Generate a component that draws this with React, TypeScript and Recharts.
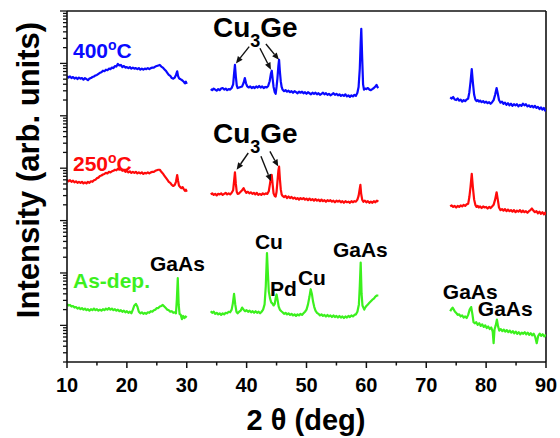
import { LineChart, Line, XAxis, YAxis, ReferenceLine, ReferenceDot } from "recharts";

type Pt = [number, number];

// [2θ (deg), log10 intensity (arb. units)]
const blue1: Pt[] = [
  [10, 5.76], [10.25, 5.73], [10.5, 5.75], [10.75, 5.72], [11, 5.74], [11.25, 5.71], [11.5, 5.73], [11.75, 5.7],
  [12, 5.73], [12.25, 5.71], [12.5, 5.72], [12.75, 5.69], [13, 5.72], [13.25, 5.7], [13.5, 5.68], [13.75, 5.71],
  [14, 5.72], [14.25, 5.74], [14.5, 5.75], [14.75, 5.77], [15, 5.78], [15.25, 5.8], [15.5, 5.82], [15.75, 5.83],
  [16, 5.86], [16.25, 5.85], [16.5, 5.88], [16.75, 5.87], [17, 5.9], [17.25, 5.89], [17.5, 5.92], [17.75, 5.91],
  [18, 5.95], [18.25, 5.94], [18.5, 5.99], [18.75, 5.96], [19, 5.97], [19.25, 5.93], [19.5, 5.95], [19.75, 5.92],
  [20, 5.93], [20.25, 5.91], [20.5, 5.93], [20.75, 5.9], [21, 5.92], [21.25, 5.9], [21.5, 5.91], [21.75, 5.89],
  [22, 5.91], [22.25, 5.88], [22.5, 5.9], [22.75, 5.88], [23, 5.9], [23.25, 5.89], [23.5, 5.91], [23.75, 5.89],
  [24, 5.91], [24.25, 5.92], [24.5, 5.92], [24.75, 5.94], [25, 5.95], [25.25, 5.96], [25.5, 5.97], [25.75, 5.94],
  [26, 5.92], [26.25, 5.89], [26.5, 5.86], [26.75, 5.82], [27, 5.78], [27.25, 5.76], [27.5, 5.72], [27.75, 5.71],
  [28, 5.73], [28.2, 5.78], [28.4, 5.85], [28.55, 5.76], [28.7, 5.72], [28.9, 5.7], [29.1, 5.69], [29.3, 5.67],
  [29.5, 5.65], [29.7, 5.62], [29.85, 5.65], [30, 5.61],
];
const blue2: Pt[] = [
  [34, 5.51], [34.25, 5.49], [34.5, 5.52], [34.75, 5.5], [35, 5.48], [35.25, 5.51], [35.5, 5.49], [35.75, 5.52],
  [36, 5.53], [36.25, 5.5], [36.5, 5.52], [36.75, 5.49], [37, 5.51], [37.25, 5.5], [37.5, 5.53], [37.75, 5.6],
  [37.9, 5.8], [38.05, 5.97], [38.2, 5.75], [38.35, 5.58], [38.5, 5.53], [38.75, 5.54], [39, 5.55], [39.25, 5.56],
  [39.5, 5.63], [39.7, 5.72], [39.9, 5.62], [40.1, 5.56], [40.35, 5.54], [40.6, 5.56], [40.85, 5.53], [41.1, 5.55],
  [41.35, 5.53], [41.6, 5.56], [41.85, 5.54], [42.1, 5.57], [42.35, 5.54], [42.6, 5.56], [42.85, 5.53], [43.1, 5.55],
  [43.35, 5.54], [43.6, 5.57], [43.85, 5.66], [44.05, 5.8], [44.2, 5.86], [44.35, 5.7], [44.5, 5.55], [44.7, 5.45],
  [44.85, 5.42], [45, 5.55], [45.15, 5.72], [45.3, 5.95], [45.42, 6.07], [45.55, 5.85], [45.7, 5.66], [45.85, 5.55],
  [46, 5.5], [46.25, 5.47], [46.5, 5.49], [46.75, 5.46], [47, 5.48], [47.25, 5.45], [47.5, 5.47], [47.75, 5.44],
  [48, 5.47], [48.25, 5.45], [48.5, 5.43], [48.75, 5.46], [49, 5.44], [49.25, 5.46], [49.5, 5.43], [49.75, 5.45],
  [50, 5.42], [50.25, 5.45], [50.5, 5.43], [50.75, 5.41], [51, 5.44], [51.25, 5.42], [51.5, 5.44], [51.75, 5.41],
  [52, 5.43], [52.25, 5.4], [52.5, 5.42], [52.75, 5.44], [53, 5.41], [53.25, 5.43], [53.5, 5.4], [53.75, 5.42],
  [54, 5.39], [54.25, 5.41], [54.5, 5.43], [54.75, 5.4], [55, 5.42], [55.25, 5.39], [55.5, 5.41], [55.75, 5.38],
  [56, 5.4], [56.25, 5.38], [56.5, 5.41], [56.75, 5.37], [57, 5.39], [57.25, 5.36], [57.5, 5.39], [57.75, 5.37],
  [58, 5.4], [58.25, 5.38], [58.5, 5.44], [58.7, 5.55], [58.9, 5.9], [59.05, 6.4], [59.15, 6.66], [59.3, 6.1],
  [59.45, 5.6], [59.6, 5.5], [59.8, 5.52], [60, 5.51], [60.25, 5.53], [60.5, 5.5], [60.75, 5.49], [61, 5.51],
  [61.25, 5.53], [61.5, 5.56], [61.7, 5.59], [61.85, 5.55], [62, 5.53],
];
const blue3: Pt[] = [
  [74, 5.35], [74.25, 5.33], [74.5, 5.36], [74.75, 5.31], [75, 5.3], [75.25, 5.33], [75.5, 5.29], [75.75, 5.31],
  [76, 5.27], [76.25, 5.3], [76.5, 5.28], [76.75, 5.31], [77, 5.33], [77.2, 5.45], [77.4, 5.65], [77.6, 5.89],
  [77.8, 5.62], [78, 5.4], [78.2, 5.31], [78.4, 5.28], [78.6, 5.3], [78.8, 5.27], [79, 5.29], [79.25, 5.26],
  [79.5, 5.28], [79.75, 5.25], [80, 5.27], [80.25, 5.24], [80.5, 5.26], [80.75, 5.23], [81, 5.26], [81.25, 5.3],
  [81.5, 5.4], [81.75, 5.53], [81.95, 5.42], [82.15, 5.3], [82.4, 5.25], [82.65, 5.27], [82.9, 5.23], [83.15, 5.25],
  [83.4, 5.21], [83.65, 5.24], [83.9, 5.2], [84.15, 5.23], [84.4, 5.19], [84.65, 5.22], [84.9, 5.2], [85.15, 5.22],
  [85.4, 5.18], [85.65, 5.21], [85.9, 5.19], [86.15, 5.23], [86.4, 5.2], [86.65, 5.22], [86.9, 5.18], [87.15, 5.2],
  [87.4, 5.17], [87.65, 5.19], [87.9, 5.16], [88.15, 5.19], [88.4, 5.15], [88.65, 5.17], [88.9, 5.13], [89.15, 5.16],
  [89.4, 5.12], [89.65, 5.15], [89.85, 5.1], [90, 5.12],
];

const red1: Pt[] = [
  [10, 3.78], [10.25, 3.75], [10.5, 3.77], [10.75, 3.74], [11, 3.76], [11.25, 3.73], [11.5, 3.75], [11.75, 3.72],
  [12, 3.74], [12.25, 3.72], [12.5, 3.74], [12.75, 3.71], [13, 3.73], [13.25, 3.71], [13.5, 3.74], [13.75, 3.72],
  [14, 3.75], [14.25, 3.74], [14.5, 3.77], [14.75, 3.78], [15, 3.81], [15.25, 3.82], [15.5, 3.85], [15.75, 3.86],
  [16, 3.88], [16.25, 3.89], [16.5, 3.91], [16.75, 3.9], [17, 3.93], [17.25, 3.92], [17.5, 3.94], [17.75, 3.95],
  [18, 3.97], [18.25, 3.96], [18.5, 3.99], [18.75, 3.97], [19, 3.98], [19.25, 3.95], [19.5, 3.96], [19.75, 3.93],
  [20, 3.95], [20.25, 3.92], [20.5, 3.94], [20.75, 3.91], [21, 3.93], [21.25, 3.91], [21.5, 3.93], [21.75, 3.9],
  [22, 3.92], [22.25, 3.9], [22.5, 3.92], [22.75, 3.89], [23, 3.91], [23.25, 3.9], [23.5, 3.92], [23.75, 3.9],
  [24, 3.92], [24.25, 3.93], [24.5, 3.93], [24.75, 3.95], [25, 3.96], [25.25, 3.97], [25.5, 3.97], [25.75, 3.93],
  [26, 3.9], [26.25, 3.86], [26.5, 3.82], [26.75, 3.78], [27, 3.74], [27.25, 3.72], [27.5, 3.68], [27.75, 3.66],
  [28, 3.68], [28.2, 3.74], [28.4, 3.87], [28.55, 3.76], [28.7, 3.67], [28.9, 3.64], [29.1, 3.62], [29.3, 3.64],
  [29.5, 3.6], [29.7, 3.57], [29.85, 3.59], [30, 3.55],
];
const red2: Pt[] = [
  [34, 3.5], [34.25, 3.52], [34.5, 3.49], [34.75, 3.51], [35, 3.48], [35.25, 3.51], [35.5, 3.5], [35.75, 3.52],
  [36, 3.49], [36.25, 3.51], [36.5, 3.53], [36.75, 3.5], [37, 3.52], [37.25, 3.5], [37.5, 3.53], [37.75, 3.58],
  [37.9, 3.75], [38.05, 3.92], [38.2, 3.7], [38.35, 3.55], [38.5, 3.51], [38.75, 3.52], [39, 3.55], [39.25, 3.58],
  [39.5, 3.62], [39.7, 3.57], [39.95, 3.53], [40.2, 3.55], [40.45, 3.52], [40.7, 3.54], [40.95, 3.51], [41.2, 3.53],
  [41.45, 3.5], [41.7, 3.53], [41.95, 3.49], [42.2, 3.51], [42.45, 3.49], [42.7, 3.52], [42.95, 3.5], [43.2, 3.52],
  [43.45, 3.51], [43.7, 3.56], [43.9, 3.7], [44.05, 3.82], [44.2, 3.87], [44.35, 3.68], [44.5, 3.52], [44.7, 3.47],
  [44.85, 3.46], [45, 3.55], [45.15, 3.75], [45.3, 3.95], [45.42, 4.03], [45.55, 3.8], [45.7, 3.6], [45.85, 3.5],
  [46, 3.47], [46.25, 3.45], [46.5, 3.47], [46.75, 3.43], [47, 3.46], [47.25, 3.43], [47.5, 3.45], [47.75, 3.42],
  [48, 3.44], [48.25, 3.41], [48.5, 3.43], [48.75, 3.4], [49, 3.43], [49.25, 3.41], [49.5, 3.43], [49.75, 3.4],
  [50, 3.42], [50.25, 3.39], [50.5, 3.42], [50.75, 3.39], [51, 3.41], [51.25, 3.38], [51.5, 3.41], [51.75, 3.38],
  [52, 3.4], [52.25, 3.37], [52.5, 3.4], [52.75, 3.37], [53, 3.39], [53.25, 3.36], [53.5, 3.39], [53.75, 3.37],
  [54, 3.39], [54.25, 3.36], [54.5, 3.38], [54.75, 3.35], [55, 3.38], [55.25, 3.36], [55.5, 3.38], [55.75, 3.35],
  [56, 3.37], [56.25, 3.34], [56.5, 3.37], [56.75, 3.35], [57, 3.36], [57.25, 3.34], [57.5, 3.37], [57.75, 3.35],
  [58, 3.37], [58.25, 3.36], [58.5, 3.4], [58.7, 3.47], [58.88, 3.6], [59, 3.68], [59.12, 3.52], [59.3, 3.4],
  [59.5, 3.36], [59.75, 3.38], [60, 3.35], [60.25, 3.37], [60.5, 3.34], [60.75, 3.36], [61, 3.34], [61.25, 3.37],
  [61.5, 3.35], [61.75, 3.38], [62, 3.36],
];
const red3: Pt[] = [
  [74, 3.27], [74.25, 3.29], [74.5, 3.26], [74.75, 3.28], [75, 3.25], [75.25, 3.28], [75.5, 3.26], [75.75, 3.29],
  [76, 3.27], [76.25, 3.3], [76.5, 3.28], [76.75, 3.31], [77, 3.32], [77.2, 3.45], [77.4, 3.65], [77.6, 3.89],
  [77.8, 3.62], [78, 3.4], [78.2, 3.3], [78.4, 3.26], [78.6, 3.28], [78.8, 3.25], [79, 3.27], [79.25, 3.24],
  [79.5, 3.27], [79.75, 3.25], [80, 3.26], [80.25, 3.23], [80.5, 3.26], [80.75, 3.24], [81, 3.27], [81.25, 3.3],
  [81.5, 3.4], [81.75, 3.54], [81.95, 3.4], [82.15, 3.25], [82.4, 3.2], [82.65, 3.22], [82.9, 3.19], [83.15, 3.22],
  [83.4, 3.18], [83.65, 3.21], [83.9, 3.18], [84.15, 3.2], [84.4, 3.17], [84.65, 3.2], [84.9, 3.16], [85.15, 3.19],
  [85.4, 3.17], [85.65, 3.2], [85.9, 3.16], [86.15, 3.19], [86.4, 3.16], [86.65, 3.18], [86.9, 3.15], [87.15, 3.18],
  [87.4, 3.2], [87.65, 3.23], [87.9, 3.19], [88.15, 3.16], [88.4, 3.18], [88.65, 3.14], [88.9, 3.17], [89.15, 3.13],
  [89.4, 3.16], [89.65, 3.12], [89.85, 3.15], [90, 3.11],
];

const green1: Pt[] = [
  [10, 1.41], [10.25, 1.38], [10.5, 1.39], [10.75, 1.36], [11, 1.37], [11.25, 1.34], [11.5, 1.35], [11.75, 1.32],
  [12, 1.34], [12.25, 1.31], [12.5, 1.33], [12.75, 1.3], [13, 1.32], [13.25, 1.29], [13.5, 1.31], [13.75, 1.28],
  [14, 1.31], [14.25, 1.29], [14.5, 1.32], [14.75, 1.29], [15, 1.31], [15.25, 1.28], [15.5, 1.3], [15.75, 1.28],
  [16, 1.31], [16.25, 1.29], [16.5, 1.32], [16.75, 1.3], [17, 1.33], [17.25, 1.3], [17.5, 1.32], [17.75, 1.29],
  [18, 1.31], [18.25, 1.28], [18.5, 1.3], [18.75, 1.27], [19, 1.29], [19.25, 1.26], [19.5, 1.28], [19.75, 1.25],
  [20, 1.27], [20.25, 1.24], [20.5, 1.26], [20.75, 1.23], [21, 1.3], [21.25, 1.38], [21.5, 1.41], [21.75, 1.36],
  [22, 1.26], [22.25, 1.23], [22.5, 1.25], [22.75, 1.22], [23, 1.24], [23.25, 1.22], [23.5, 1.25], [23.75, 1.24],
  [24, 1.27], [24.25, 1.26], [24.5, 1.29], [24.75, 1.3], [25, 1.33], [25.25, 1.33], [25.5, 1.36], [25.75, 1.37],
  [26, 1.39], [26.25, 1.36], [26.5, 1.33], [26.75, 1.3], [27, 1.29], [27.25, 1.26], [27.5, 1.27], [27.75, 1.24],
  [28, 1.25], [28.2, 1.23], [28.35, 1.5], [28.5, 1.9], [28.65, 1.4], [28.8, 1.22], [29, 1.2], [29.2, 1.12],
  [29.4, 1.18], [29.6, 1.14], [29.8, 1.17], [30, 1.15],
];
const green2: Pt[] = [
  [34, 1.27], [34.25, 1.24], [34.5, 1.26], [34.75, 1.22], [35, 1.24], [35.25, 1.21], [35.5, 1.23], [35.75, 1.2],
  [36, 1.23], [36.25, 1.21], [36.5, 1.24], [36.75, 1.23], [37, 1.26], [37.25, 1.25], [37.5, 1.3], [37.7, 1.42],
  [37.9, 1.6], [38.1, 1.4], [38.3, 1.26], [38.5, 1.23], [38.75, 1.26], [39, 1.28], [39.25, 1.34], [39.5, 1.3],
  [39.75, 1.27], [40, 1.29], [40.25, 1.26], [40.5, 1.28], [40.75, 1.25], [41, 1.27], [41.25, 1.24], [41.5, 1.27],
  [41.75, 1.24], [42, 1.26], [42.25, 1.23], [42.5, 1.26], [42.75, 1.3], [43, 1.4], [43.2, 1.75], [43.4, 2.38],
  [43.55, 2.0], [43.7, 1.65], [43.9, 1.52], [44.1, 1.44], [44.3, 1.42], [44.5, 1.38], [44.7, 1.41], [44.85, 1.52],
  [45, 1.59], [45.15, 1.5], [45.35, 1.36], [45.55, 1.3], [45.8, 1.27], [46, 1.25], [46.25, 1.22], [46.5, 1.24],
  [46.75, 1.21], [47, 1.23], [47.25, 1.2], [47.5, 1.22], [47.75, 1.19], [48, 1.21], [48.25, 1.18], [48.5, 1.21],
  [48.75, 1.19], [49, 1.22], [49.25, 1.2], [49.5, 1.23], [49.75, 1.26], [50, 1.3], [50.25, 1.4], [50.5, 1.55],
  [50.7, 1.69], [50.9, 1.6], [51.1, 1.45], [51.3, 1.35], [51.5, 1.28], [51.75, 1.24], [52, 1.22], [52.25, 1.19],
  [52.5, 1.21], [52.75, 1.18], [53, 1.2], [53.25, 1.17], [53.5, 1.2], [53.75, 1.17], [54, 1.19], [54.25, 1.16],
  [54.5, 1.19], [54.75, 1.16], [55, 1.18], [55.25, 1.15], [55.5, 1.18], [55.75, 1.15], [56, 1.17], [56.25, 1.14],
  [56.5, 1.17], [56.75, 1.15], [57, 1.18], [57.25, 1.16], [57.5, 1.19], [57.75, 1.17], [58, 1.2], [58.25, 1.21],
  [58.5, 1.26], [58.75, 1.4], [58.9, 1.75], [59.05, 2.2], [59.2, 1.6], [59.35, 1.38], [59.5, 1.34], [59.65, 1.3],
  [59.8, 1.34], [60, 1.37], [60.25, 1.4], [60.5, 1.43], [60.75, 1.46], [61, 1.49], [61.25, 1.51], [61.5, 1.55],
  [61.75, 1.57], [62, 1.57],
];
const green3: Pt[] = [
  [74, 1.27], [74.2, 1.31], [74.4, 1.34], [74.6, 1.3], [74.8, 1.26], [75, 1.24], [75.25, 1.2], [75.5, 1.21],
  [75.75, 1.17], [76, 1.19], [76.25, 1.15], [76.5, 1.17], [76.75, 1.14], [77, 1.2], [77.25, 1.3], [77.5, 1.35],
  [77.7, 1.22], [77.9, 1.06], [78.1, 1.04], [78.35, 1.06], [78.6, 1.01], [78.85, 1.04], [79.1, 0.99], [79.35, 1.02],
  [79.6, 0.97], [79.85, 1.0], [80.1, 0.95], [80.35, 0.98], [80.6, 0.93], [80.85, 0.96], [81.1, 0.88], [81.25, 0.66],
  [81.4, 0.92], [81.6, 1.0], [81.8, 1.11], [82, 0.98], [82.2, 0.9], [82.45, 0.93], [82.7, 0.89], [82.95, 0.92],
  [83.2, 0.88], [83.45, 0.91], [83.7, 0.87], [83.95, 0.9], [84.2, 0.86], [84.45, 0.89], [84.7, 0.85], [84.95, 0.88],
  [85.2, 0.84], [85.45, 0.87], [85.7, 0.83], [85.95, 0.86], [86.2, 0.84], [86.45, 0.87], [86.7, 0.83], [86.95, 0.86],
  [87.2, 0.82], [87.45, 0.85], [87.7, 0.81], [87.95, 0.84], [88.2, 0.78], [88.45, 0.66], [88.7, 0.8], [88.95, 0.84],
  [89.2, 0.8], [89.45, 0.83], [89.7, 0.79], [90, 0.82],
];

const BLUE = "#0a0aff";
const RED = "#ff0a0a";
const GREEN = "#3cf01e";
const INK = "#111111";
const FONT = "'Liberation Sans', Arial, Helvetica, sans-serif";

const series = [
  { name: "400C", color: BLUE, segments: [blue1, blue2, blue3] },
  { name: "250C", color: RED, segments: [red1, red2, red3] },
  { name: "as-dep", color: GREEN, segments: [green1, green2, green3] },
];

const xTicks = [10, 15, 20, 25, 30, 35, 40, 45, 50, 55, 60, 65, 70, 75, 80, 85, 90];
const yMin = Math.log10(2);
const yMax = 7;
const decades = [0, 1, 2, 3, 4, 5, 6, 7];
const minorSteps = [2, 3, 4, 5, 6, 7, 8, 9];
const yTicks = decades
  .flatMap((d) => [d, ...minorSteps.map((m) => d + Math.log10(m))])
  .filter((v) => v >= yMin - 1e-9 && v <= yMax + 1e-9);

// peak labels: [x, y, text] — x in deg, y in log10 units (text baseline)
const phaseLabels: [number, number, string][] = [
  [23.86, 2.03, "GaAs"],
  [41.39, 2.45, "Cu"],
  [43.89, 1.57, "Pd"],
  [48.56, 1.78, "Cu"],
  [54.41, 2.3, "GaAs"],
  [72.77, 1.5, "GaAs"],
  [78.61, 1.17, "GaAs"],
];
const cu3geLabels: [number, number][] = [
  [34.37, 6.5],
  [34.37, 4.49],
];
const tempLabels: [number, number, string, string][] = [
  [11.0, 6.1, "400", BLUE],
  [11.0, 3.95, "250", RED],
];
const asDepLabel: [number, number] = [11.0, 1.72];

// arrows: [x1, y1, x2, y2]
const arrows: [number, number, number, number][] = [
  [40.43, 6.32, 38.21, 6.0],
  [42.22, 6.29, 44.06, 5.88],
  [43.22, 6.37, 45.39, 6.07],
  [40.27, 4.29, 38.33, 3.97],
  [42.39, 4.23, 44.06, 3.75],
  [43.89, 4.32, 45.28, 4.03],
];

const XTick = ({ x, y, payload }: any) => {
  const major = payload.value % 10 === 0;
  return (
    <g>
      <line x1={x} x2={x} y1={y} y2={y + (major ? 6 : 3.5)} stroke={INK} strokeWidth={1.5} />
      {major && (
        <text x={x} y={y + 30} textAnchor="middle" fontFamily={FONT} fontWeight="bold" fontSize={20} fill="#000">
          {payload.value}
        </text>
      )}
    </g>
  );
};

const YTick = ({ x, y, payload }: any) => {
  const major = Math.abs(payload.value - Math.round(payload.value)) < 1e-6;
  return <line x1={x} x2={x - (major ? 7 : 4)} y1={y} y2={y} stroke={INK} strokeWidth={1.3} />;
};

const Arrow = (p: any) => {
  const { x1, y1, x2, y2 } = p;
  const a = Math.atan2(y2 - y1, x2 - x1);
  const L = 7;
  const W = 3;
  const bx = x2 - L * Math.cos(a);
  const by = y2 - L * Math.sin(a);
  const pts = `${x2},${y2} ${bx + W * Math.sin(a)},${by - W * Math.cos(a)} ${bx - W * Math.sin(a)},${by + W * Math.cos(a)}`;
  return (
    <g>
      <line x1={x1} y1={y1} x2={bx} y2={by} stroke={INK} strokeWidth={1.4} />
      <polygon points={pts} fill={INK} />
    </g>
  );
};

const labelStyle = { fontFamily: FONT, fontWeight: "bold" as const };

export default function App() {
  return (
    <div style={{ position: "absolute", left: 0, top: 0, background: "#fff" }}>
      <LineChart width={560} height={438} margin={{ top: 11, right: 14, bottom: 46, left: 7 }}>
        <XAxis
          dataKey="x"
          type="number"
          domain={[10, 90]}
          ticks={xTicks}
          interval={0}
          tickSize={0}
          tickMargin={0}
          height={30}
          tick={<XTick />}
          tickLine={false}
          axisLine={{ stroke: INK, strokeWidth: 1.6 }}
          allowDataOverflow
          label={() => (
            <text x={306} y={430} textAnchor="middle" fontSize={29} fill="#000" {...labelStyle}>
              2 θ (deg)
            </text>
          )}
        />
        <YAxis
          type="number"
          domain={[yMin, yMax]}
          ticks={yTicks}
          interval={0}
          tickSize={0}
          tickMargin={0}
          width={60}
          tick={<YTick />}
          tickLine={false}
          axisLine={{ stroke: INK, strokeWidth: 1.6 }}
          allowDataOverflow
          label={() => (
            <text
              x={39}
              y={170}
              transform="rotate(-90 39 170)"
              textAnchor="middle"
              fontSize={31}
              fill="#000"
              {...labelStyle}
            >
              Intensity (arb. units)
            </text>
          )}
        />
        <ReferenceLine y={yMax} stroke={INK} strokeWidth={1.6} />
        <ReferenceLine x={90} stroke={INK} strokeWidth={1.6} />

        {series.flatMap((s) =>
          s.segments.map((seg, i) => (
            <Line
              key={`${s.name}-${i}`}
              data={seg.map(([x, v]) => ({ x, v }))}
              dataKey="v"
              type="linear"
              stroke={s.color}
              strokeWidth={2.2}
              strokeLinejoin="round"
              dot={false}
              activeDot={false}
              isAnimationActive={false}
            />
          ))
        )}

        {tempLabels.map(([x, y, t, c]) => (
          <ReferenceDot
            key={t}
            x={x}
            y={y}
            r={0}
            ifOverflow="visible"
            shape={(p: any) => (
              <text x={p.cx} y={p.cy} fill={c} fontSize={21} {...labelStyle}>
                <tspan>{t}</tspan>
                <tspan dy={-8} fontSize={14}>o</tspan>
                <tspan dy={8}>C</tspan>
              </text>
            )}
          />
        ))}
        <ReferenceDot
          x={asDepLabel[0]}
          y={asDepLabel[1]}
          r={0}
          ifOverflow="visible"
          shape={(p: any) => (
            <text x={p.cx} y={p.cy} fill={GREEN} fontSize={21} {...labelStyle}>
              As-dep.
            </text>
          )}
        />
        {cu3geLabels.map(([x, y], i) => (
          <ReferenceDot
            key={`cu3ge-${i}`}
            x={x}
            y={y}
            r={0}
            ifOverflow="visible"
            shape={(p: any) => (
              <text x={p.cx} y={p.cy} fill="#000" fontSize={28} {...labelStyle}>
                <tspan>Cu</tspan>
                <tspan dy={10} fontSize={18}>3</tspan>
                <tspan dy={-10}>Ge</tspan>
              </text>
            )}
          />
        ))}
        {phaseLabels.map(([x, y, t], i) => (
          <ReferenceDot
            key={`ph-${i}`}
            x={x}
            y={y}
            r={0}
            ifOverflow="visible"
            shape={(p: any) => (
              <text x={p.cx} y={p.cy} fill="#000" fontSize={21} {...labelStyle}>
                {t}
              </text>
            )}
          />
        ))}
        {arrows.map(([x1, y1, x2, y2], i) => (
          <ReferenceLine
            key={`arr-${i}`}
            segment={[
              { x: x1, y: y1 },
              { x: x2, y: y2 },
            ]}
            ifOverflow="visible"
            shape={<Arrow />}
          />
        ))}
      </LineChart>
    </div>
  );
}
